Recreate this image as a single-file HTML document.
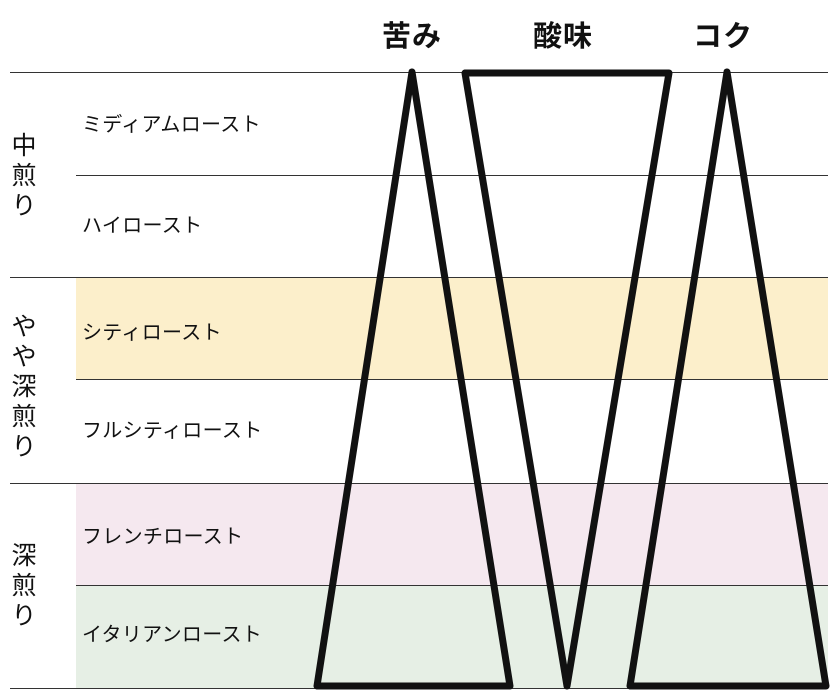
<!DOCTYPE html>
<html><head><meta charset="utf-8"><style>
body{margin:0;width:840px;height:700px;background:#fff;overflow:hidden;position:relative;font-family:"Liberation Sans","Noto Sans CJK JP",sans-serif;color:#111}
.t{position:absolute;font-size:20px;left:82px;line-height:22px;letter-spacing:0.3px}
.v{position:absolute;left:9px;width:30px;font-size:25px;line-height:30px;text-align:center;color:#111}
.h{position:absolute;top:13px;font-size:29px;font-weight:bold;color:#111;letter-spacing:1px}
</style></head><body>
<svg width="840" height="700" style="position:absolute;left:0;top:0">
<rect x="76" y="278" width="752" height="101" fill="#fcefcb"/>
<rect x="76" y="484" width="752" height="101" fill="#f5e8ef"/>
<rect x="76" y="586" width="752" height="102" fill="#e6efe5"/>
<g stroke="#333" stroke-width="1">
<line x1="10" y1="72.5" x2="828" y2="72.5"/>
<line x1="76" y1="175.5" x2="828" y2="175.5"/>
<line x1="10" y1="277.5" x2="828" y2="277.5"/>
<line x1="76" y1="379.5" x2="828" y2="379.5"/>
<line x1="10" y1="483.5" x2="828" y2="483.5"/>
<line x1="76" y1="585.5" x2="828" y2="585.5"/>
<line x1="10" y1="688.5" x2="828" y2="688.5"/>
</g>
<g fill="none" stroke="#111" stroke-width="7" stroke-linejoin="round">
<polygon points="412,72 317,686 510,686"/>
<polygon points="465,73 669,73 567,686"/>
<polygon points="727,72 630,686 826,686"/>
</g>
</svg>
<div class="h" style="left:382px">苦み</div>
<div class="h" style="left:533px">酸味</div>
<div class="h" style="left:693px">コク</div>
<div class="t" style="top:114px">ミディアムロースト</div>
<div class="t" style="top:215px">ハイロースト</div>
<div class="t" style="top:322px">シティロースト</div>
<div class="t" style="top:420px">フルシティロースト</div>
<div class="t" style="top:526px">フレンチロースト</div>
<div class="t" style="top:624px">イタリアンロースト</div>
<div class="v" style="top:131px">中<br>煎<br>り</div>
<div class="v" style="top:312px">や<br>や<br>深<br>煎<br>り</div>
<div class="v" style="top:541px">深<br>煎<br>り</div>
</body></html>
